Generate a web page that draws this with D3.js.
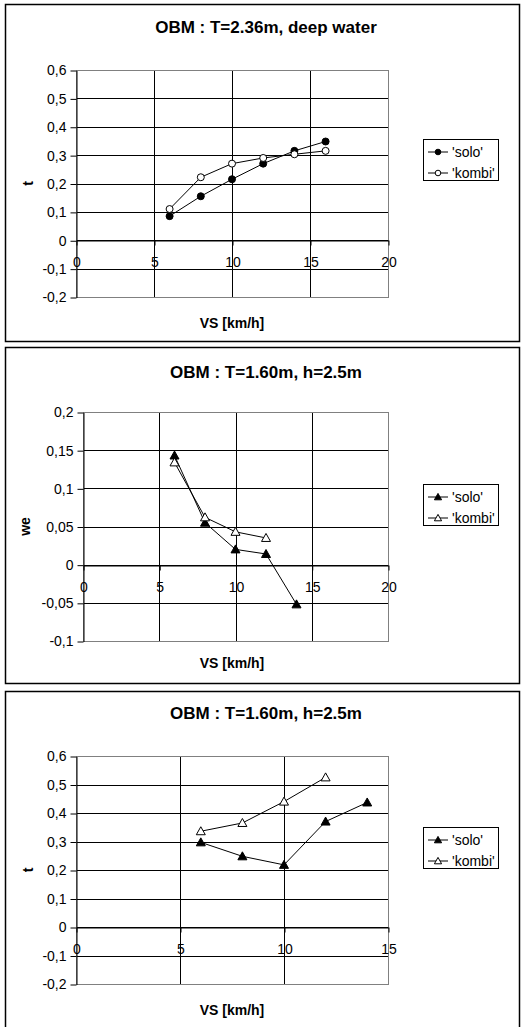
<!DOCTYPE html>
<html>
<head>
<meta charset="utf-8">
<script src="https://cdn.jsdelivr.net/npm/d3@7"></script>
<style>
  body { margin: 0; background: #fff; }
  svg { display: block; font-family: "Liberation Sans", Arial, sans-serif; }
</style>
</head>
<body>
<div id="container"></div>
<script>
// chart 1 : T=2.36m deep water, t vs VS
var vs1 = [6, 8, 10, 12, 14, 16];
var solo1 = [0.085, 0.155, 0.215, 0.27, 0.315, 0.348];
var kombi1 = [0.11, 0.222, 0.27, 0.29, 0.303, 0.315];

// chart 2 : T=1.60m h=2.5m, we vs VS
var vsSolo2 = [6, 8, 10, 12, 14];
var solo2 = [0.143, 0.055, 0.02, 0.014, -0.052];
var vsKombi2 = [6, 8, 10, 12];
var kombi2 = [0.134, 0.062, 0.043, 0.035];

// chart 3 : T=1.60m h=2.5m, t vs VS
var vsSolo3 = [6, 8, 10, 12, 14];
var solo3 = [0.297, 0.248, 0.218, 0.37, 0.437];
var vsKombi3 = [6, 8, 10, 12];
var kombi3 = [0.336, 0.365, 0.44, 0.525];

var titles = ["OBM : T=2.36m, deep water", "OBM : T=1.60m, h=2.5m", "OBM : T=1.60m, h=2.5m"];
var yLabels = ["t", "we", "t"];
var xLabel = "VS [km/h]";
var seriesNames = ["'solo'", "'kombi'"];

var svg = d3.select("#container").append("svg")
  .attr("width", 523).attr("height", 1027);

function fmt(v) { return String(+v.toFixed(4)).replace(".", ","); }

function zip(xs, ys) { return xs.map(function(x, i) { return {x: x, y: ys[i]}; }); }

// k scales the marker (legend ones are a bit smaller)
function marker(g, shape, filled, x, y, k) {
  k = k || 1;
  if (shape == "circle") {
    g.append("circle").attr("cx", x).attr("cy", y).attr("r", 3.5 * k)
      .attr("fill", filled ? "#000" : "#fff").attr("stroke", "#000").attr("stroke-width", 1);
  } else {
    var a = 4.5 * k, b = 3.5 * k;
    g.append("path").attr("d", "M" + x + "," + (y - a) + " L" + (x + a) + "," + (y + b) + " L" + (x - a) + "," + (y + b) + " Z")
      .attr("fill", filled ? "#000" : "#fff").attr("stroke", "#000").attr("stroke-width", 1);
  }
}

function drawPanel(p) {
  var g = svg.append("g");
  // outer frame
  g.append("rect").attr("x", 5.5).attr("y", p.boxTop + 0.5).attr("width", 514).attr("height", p.boxH)
    .attr("fill", "#fff").attr("stroke", "#000").attr("stroke-width", 1.5);

  var x = d3.scaleLinear().domain(p.xDomain).range([p.l, p.r]);
  var y = d3.scaleLinear().domain(p.yDomain).range([p.b, p.t]);
  var yt = y.ticks(p.yCount), xt = x.ticks(p.xCount);

  // grid
  g.selectAll(".hg").data(yt).enter().append("line")
    .attr("x1", p.l).attr("x2", p.r)
    .attr("y1", function(d) { return Math.round(y(d)) + 0.5; })
    .attr("y2", function(d) { return Math.round(y(d)) + 0.5; })
    .attr("stroke", "#000").attr("stroke-width", 1);
  g.selectAll(".vg").data(xt.slice(1)).enter().append("line")
    .attr("y1", p.t).attr("y2", p.b)
    .attr("x1", function(d) { return Math.round(x(d)) + 0.5; })
    .attr("x2", function(d) { return Math.round(x(d)) + 0.5; })
    .attr("stroke", "#000").attr("stroke-width", 1);
  g.append("rect").attr("x", p.l + 0.5).attr("y", p.t + 0.5).attr("width", p.r - p.l).attr("height", p.b - p.t)
    .attr("fill", "none").attr("stroke", "#808080").attr("stroke-width", 1);

  // y axis
  var ya = g.append("g").attr("transform", "translate(" + (p.l + 0.5) + ",0.5)")
    .call(d3.axisLeft(y).tickValues(yt).tickSize(6).tickSizeOuter(0).tickPadding(4).tickFormat(fmt));
  ya.selectAll("text").attr("font-size", 14).attr("fill", "#000").attr("font-family", null);
  ya.select(".domain").attr("stroke", "#000");
  ya.selectAll(".tick line").attr("stroke", "#000");

  // x axis at y=0
  var y0 = Math.round(y(0));
  var xa = g.append("g").attr("transform", "translate(0.5," + (y0 + 0.5) + ")")
    .call(d3.axisBottom(x).tickValues(xt).tickSize(5).tickSizeOuter(0).tickPadding(12));
  xa.selectAll("text").attr("font-size", 14).attr("fill", "#000").attr("font-family", null);
  xa.select(".domain").attr("stroke", "#000");
  xa.selectAll(".tick line").attr("stroke", "#000");

  // series
  var line = d3.line().x(function(d) { return x(d.x); }).y(function(d) { return y(d.y); });
  p.series.forEach(function(s) {
    g.append("path").datum(s.data).attr("d", line).attr("fill", "none").attr("stroke", "#000").attr("stroke-width", 1);
    s.data.forEach(function(d) { marker(g, p.shape, s.filled, x(d.x), y(d.y)); });
  });

  // texts
  g.append("text").attr("x", 266).attr("y", p.titleY).attr("text-anchor", "middle")
    .attr("font-size", 17).attr("font-weight", "bold").text(p.title);
  g.append("text").attr("x", 232).attr("y", p.xLabY).attr("text-anchor", "middle")
    .attr("font-size", 14).attr("font-weight", "bold").text(xLabel);
  g.append("text").attr("transform", "translate(" + p.yLabX + "," + ((p.t + p.b) / 2) + ") rotate(-90)")
    .attr("text-anchor", "middle").attr("font-size", 14).attr("font-weight", "bold").text(p.yLabel);

  // legend
  var lg = g.append("g").attr("transform", "translate(423," + p.legTop + ")");
  lg.append("rect").attr("x", 0.5).attr("y", 0.5).attr("width", 75).attr("height", 41)
    .attr("fill", "#fff").attr("stroke", "#000").attr("stroke-width", 1);
  p.series.forEach(function(s, i) {
    var cy = 13 + i * 21;
    lg.append("line").attr("x1", 5).attr("x2", 25).attr("y1", cy).attr("y2", cy).attr("stroke", "#000");
    marker(lg, p.shape, s.filled, 15, cy, 0.8);
    lg.append("text").attr("x", 29).attr("y", cy + 5).attr("font-size", 14).text(seriesNames[i]);
  });
}

drawPanel({
  boxTop: 4, boxH: 337, l: 76, r: 388, t: 70, b: 297,
  xDomain: [0, 20], yDomain: [-0.2, 0.6], xCount: 4, yCount: 8,
  titleY: 33, xLabY: 328, yLabX: 33, legTop: 139, shape: "circle",
  title: titles[0], yLabel: yLabels[0],
  series: [{data: zip(vs1, solo1), filled: true}, {data: zip(vs1, kombi1), filled: false}]
});
drawPanel({
  boxTop: 347, boxH: 336, l: 83, r: 388, t: 412, b: 641,
  xDomain: [0, 20], yDomain: [-0.1, 0.2], xCount: 4, yCount: 6,
  titleY: 378, xLabY: 668, yLabX: 30, legTop: 484, shape: "triangle",
  title: titles[1], yLabel: yLabels[1],
  series: [{data: zip(vsSolo2, solo2), filled: true}, {data: zip(vsKombi2, kombi2), filled: false}]
});
drawPanel({
  boxTop: 691, boxH: 350, l: 76, r: 388, t: 756, b: 984,
  xDomain: [0, 15], yDomain: [-0.2, 0.6], xCount: 3, yCount: 8,
  titleY: 719, xLabY: 1015, yLabX: 33, legTop: 827, shape: "triangle",
  title: titles[2], yLabel: yLabels[2],
  series: [{data: zip(vsSolo3, solo3), filled: true}, {data: zip(vsKombi3, kombi3), filled: false}]
});
</script>
</body>
</html>
